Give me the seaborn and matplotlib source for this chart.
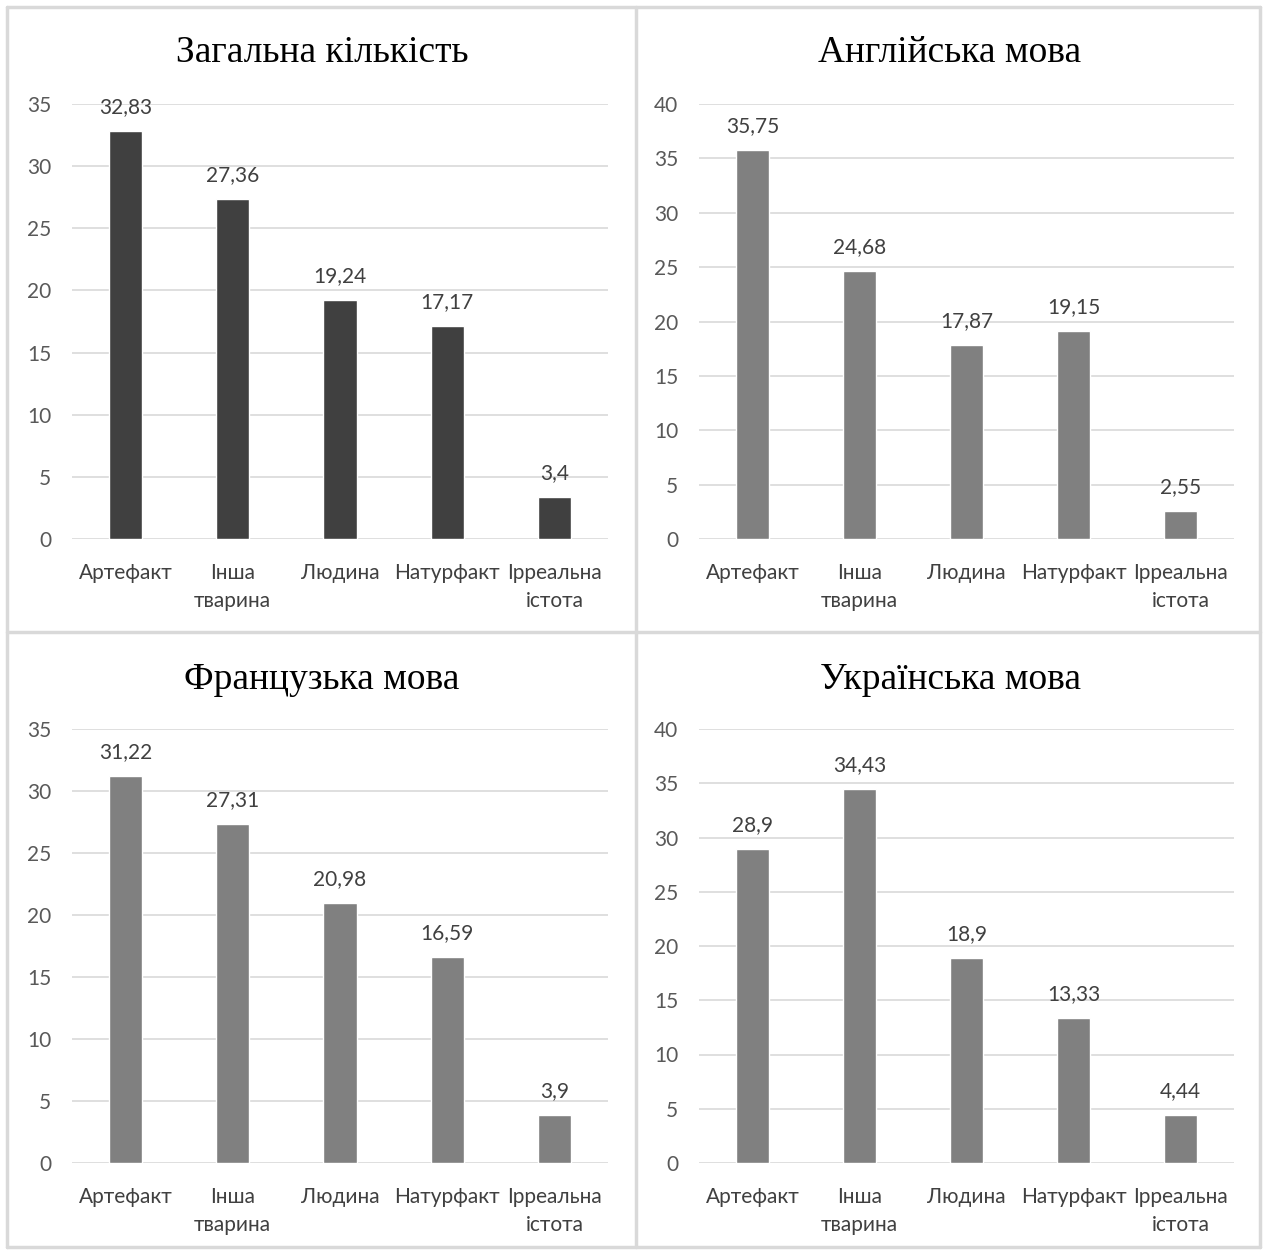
import matplotlib
matplotlib.use("Agg")
import matplotlib.pyplot as plt
from matplotlib.lines import Line2D
import seaborn as sns
import pandas as pd

categories = ["Артефакт", "Інша\nтварина", "Людина", "Натурфакт", "Ірреальна\nістота"]

total_values = [32.83, 27.36, 19.24, 17.17, 3.4]
english_values = [35.75, 24.68, 17.87, 19.15, 2.55]
french_values = [31.22, 27.31, 20.98, 16.59, 3.9]
ukrainian_values = [28.9, 34.43, 18.9, 13.33, 4.44]

titles = ["Загальна кількість", "Англійська мова", "Французька мова", "Українська мова"]
y_maxes = [35, 40, 35, 40]
bar_colors = ["#404040", "#808080", "#808080", "#808080"]

sns.set_theme(style="white")
plt.rcParams["font.family"] = ["Lato", "DejaVu Sans"]

W, H = 1264, 1250
fig = plt.figure(figsize=(W / 100, H / 100), dpi=100)

# panel plot areas in pixels: left, top, right, bottom
boxes = [(72, 104, 608, 539), (699, 104, 1234, 539),
         (72, 729, 608, 1163), (699, 729, 1234, 1163)]
title_pos = [(322, 53), (950, 53), (322, 680), (950, 680)]
series = [total_values, english_values, french_values, ukrainian_values]

for (l, t, r, b), (tx, ty), vals, title, ymax, col in zip(
        boxes, title_pos, series, titles, y_maxes, bar_colors):
    ax = fig.add_axes([l / W, 1 - b / H, (r - l) / W, (b - t) / H])
    df = pd.DataFrame({"category": categories, "value": vals})
    sns.barplot(data=df, x="category", y="value", color=col, width=0.31,
                saturation=1, ax=ax)
    ax.set_ylim(0, ymax)
    ax.set_yticks(range(0, ymax + 1, 5))
    ax.yaxis.grid(True, color="#d9d9d9", linewidth=1.2)
    ax.set_axisbelow(True)
    for s in ax.spines.values():
        s.set_visible(False)
    ax.set_xlabel("")
    ax.set_ylabel("")
    ax.tick_params(axis="both", length=0, labelsize=15, colors="#595959")
    ax.tick_params(axis="y", pad=15)
    ax.tick_params(axis="x", pad=17)
    for lab in ax.get_xticklabels():
        lab.set_color("#404040")
        lab.set_linespacing(1.55)
    labels = [str(v).replace(".", ",") for v in vals]
    ax.bar_label(ax.containers[0], labels=labels, padding=10,
                 fontsize=15, color="#404040")
    fig.text(tx / W, 1 - ty / H, title, ha="center", va="center",
             fontsize=27, family="Liberation Serif", color="#000000")

# panel frames
frame_kw = dict(color="#d9d9d9", linewidth=2.5, transform=fig.transFigure)
x0, x1, xm = 7 / W, 1260 / W, 636 / W
y0, y1, ym = 1 - 7 / H, 1 - 1247 / H, 1 - 632 / H
for xs, ys in [((x0, x1), (y0, y0)), ((x0, x1), (y1, y1)),
               ((x0, x0), (y0, y1)), ((x1, x1), (y0, y1)),
               ((xm, xm), (y0, y1)), ((x0, x1), (ym, ym))]:
    fig.add_artist(Line2D(xs, ys, **frame_kw))

fig.savefig("out.png", dpi=100, facecolor="white")
